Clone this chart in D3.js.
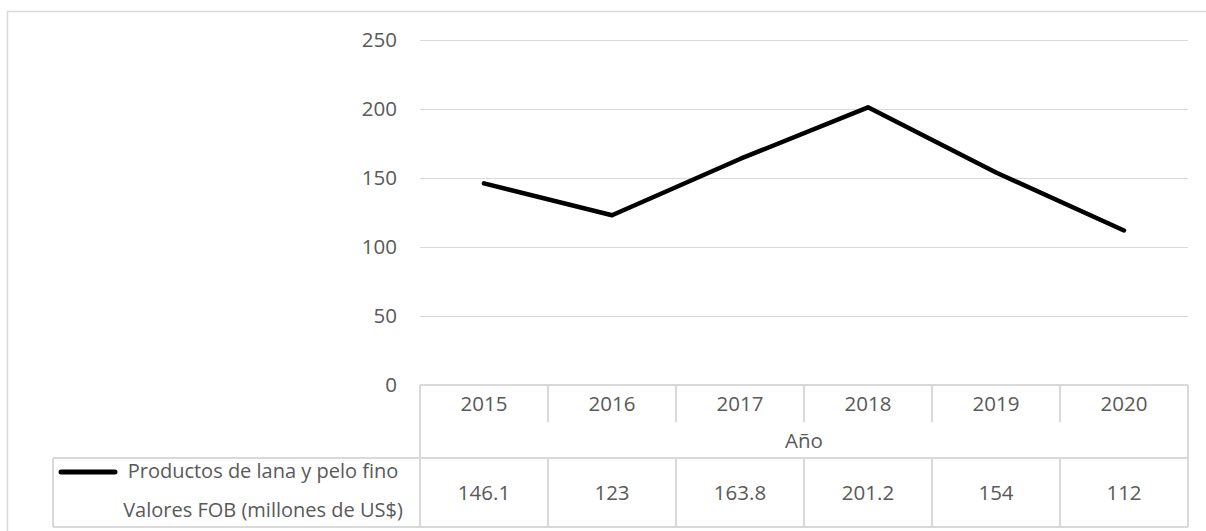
<!DOCTYPE html>
<html><head><meta charset="utf-8">
<script src="https://cdn.jsdelivr.net/npm/d3@7"></script>
<style>body{margin:0;background:#fff}svg{display:block}</style>
</head><body>
<svg id="c" width="1206" height="531"></svg>
<script>
const categories = ["2015","2016","2017","2018","2019","2020"];
const values = [146.1, 123, 163.8, 201.2, 154, 112];
const valueLabels = ["146.1","123","163.8","201.2","154","112"];
const yTicks = [0,50,100,150,200,250];
const axisTitle = "Año";
const seriesName = ["Productos de lana y pelo fino","Valores FOB (millones de US$)"];

(function(){
const svg = d3.select("#c");
const font = "'Open Sans', 'Noto Sans', sans-serif";
const txt = "#595959", grid = "#d9d9d9";
const fs = 20.5;
const plotL = 420, plotR = 1188, plotT = 40, zeroY = 385;
const x = d3.scaleBand().domain(categories).range([plotL,plotR]);
const y = d3.scaleLinear().domain([0,250]).range([zeroY, plotT]);

// outer border
svg.append("path").attr("d","M7.5,531 V11.5 H1206").attr("fill","none").attr("stroke",grid).attr("stroke-width",1.5);

// gridlines
svg.append("g").selectAll("line").data(yTicks.filter(d=>d>0)).join("line")
  .attr("x1",plotL).attr("x2",plotR).attr("y1",d=>Math.round(y(d))+0.5).attr("y2",d=>Math.round(y(d))+0.5)
  .attr("stroke",grid).attr("stroke-width",1);
// y labels
svg.append("g").selectAll("text").data(yTicks).join("text")
  .attr("x",397).attr("y",d=>y(d)).attr("dy","0.35em").attr("text-anchor","end")
  .attr("font-family",font).attr("font-size",fs).attr("fill",txt).text(d=>d);

// table
const rowCatB = 422, rowAxisB = 458, rowDataB = 527, legL = 53;
const tb = svg.append("g").attr("stroke",grid).attr("stroke-width",2).attr("fill","none");
tb.append("line").attr("x1",plotL).attr("x2",plotR).attr("y1",zeroY).attr("y2",zeroY);
tb.append("line").attr("x1",legL).attr("x2",plotR).attr("y1",rowAxisB).attr("y2",rowAxisB);
tb.append("line").attr("x1",legL).attr("x2",plotR).attr("y1",rowDataB).attr("y2",rowDataB);
tb.append("line").attr("x1",legL).attr("x2",legL).attr("y1",rowAxisB).attr("y2",rowDataB);
tb.append("line").attr("x1",plotR).attr("x2",plotR).attr("y1",zeroY).attr("y2",rowDataB);
tb.append("line").attr("x1",plotL).attr("x2",plotL).attr("y1",zeroY).attr("y2",rowDataB);
tb.selectAll(".cs").data(categories.slice(1)).join("line")
  .attr("x1",d=>x(d)).attr("x2",d=>x(d)).attr("y1",zeroY).attr("y2",rowCatB);
tb.selectAll(".ds").data(categories.slice(1)).join("line")
  .attr("x1",d=>x(d)).attr("x2",d=>x(d)).attr("y1",rowAxisB).attr("y2",rowDataB);

svg.append("g").selectAll("text").data(categories).join("text")
  .attr("x",d=>x(d)+x.bandwidth()/2).attr("y",(zeroY+rowCatB)/2).attr("dy","0.35em").attr("text-anchor","middle")
  .attr("font-family",font).attr("font-size",fs).attr("fill",txt).text(d=>d);
svg.append("text").attr("x",(plotL+plotR)/2).attr("y",(rowCatB+rowAxisB)/2+1).attr("dy","0.35em").attr("text-anchor","middle")
  .attr("font-family",font).attr("font-size",fs).attr("fill",txt).text(axisTitle);
svg.append("g").selectAll("text").data(valueLabels).join("text")
  .attr("x",(d,i)=>x(categories[i])+x.bandwidth()/2).attr("y",(rowAxisB+rowDataB)/2).attr("dy","0.35em").attr("text-anchor","middle")
  .attr("font-family",font).attr("font-size",fs).attr("fill",txt).text(d=>d);

// legend
svg.append("line").attr("x1",61).attr("x2",115).attr("y1",472).attr("y2",472)
  .attr("stroke","#000").attr("stroke-width",5).attr("stroke-linecap","round");
svg.append("g").selectAll("text").data(seriesName).join("text")
  .attr("x",263).attr("y",(d,i)=>471+i*39).attr("dy","0.35em").attr("text-anchor","middle")
  .attr("font-family",font).attr("font-size",20).attr("fill",txt).text(d=>d);

// line
const line = d3.line().x((d,i)=>x(categories[i])+x.bandwidth()/2).y(d=>y(d));
svg.append("path").datum(values).attr("d",line).attr("fill","none")
  .attr("stroke","#000").attr("stroke-width",4.5).attr("stroke-linejoin","round").attr("stroke-linecap","round");
})();
</script>
</body></html>
